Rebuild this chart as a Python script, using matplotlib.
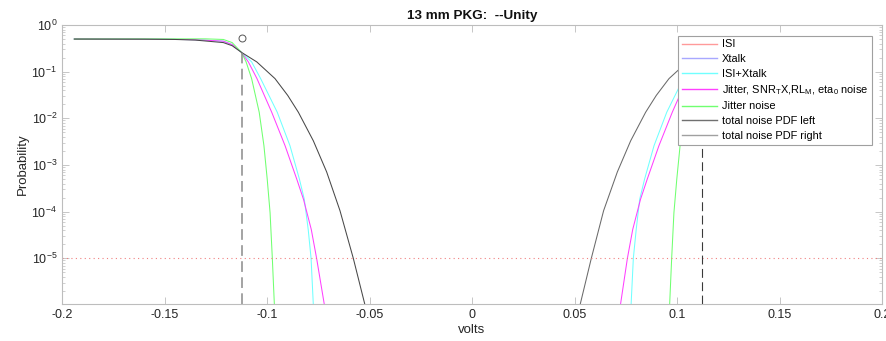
import numpy as np
import matplotlib
matplotlib.use("Agg")
import matplotlib.pyplot as plt
from matplotlib.lines import Line2D
from matplotlib.ticker import LogLocator, NullFormatter, FixedLocator

plt.rcParams['font.family'] = ['Liberation Sans', 'DejaVu Sans']
plt.rcParams['mathtext.fontset'] = 'custom'
plt.rcParams['mathtext.rm'] = 'Liberation Sans'
plt.rcParams['mathtext.it'] = 'Liberation Sans:italic'
plt.rcParams['mathtext.bf'] = 'Liberation Sans:bold'

# ---------------- data ----------------
title = "13 mm PKG:  --Unity"
legend_labels = ["ISI", "Xtalk", "ISI+Xtalk",
                 r"Jitter, SNR$_\mathrm{T}$X,RL$_\mathrm{M}$, eta$_0$ noise",
                 "Jitter noise", "total noise PDF left", "total noise PDF right"]

# ISI+Xtalk (cyan)
cyan_left_x = [-0.194, -0.15, -0.135, -0.1213, -0.117, -0.1125, -0.1075, -0.1031, -0.0950, -0.0888,
               -0.0842, -0.0818, -0.0799, -0.0785, -0.0774]
cyan_left_p = [0.5, 0.495, 0.485, 0.45, 0.38, 0.26, 0.162, 0.071, 0.0135, 2.6e-3,
               5.0e-4, 1.84e-4, 4.15e-5, 1.0e-5, 1.0e-6]
cyan_right_x = [0.0776, 0.0787, 0.0801, 0.0818, 0.0842, 0.0888, 0.0950, 0.1031, 0.1075, 0.1125,
                0.117, 0.1213, 0.135, 0.15, 0.194]
cyan_right_p = [1.0e-6, 1.0e-5, 4.15e-5, 1.84e-4, 5.0e-4, 2.6e-3, 0.0135, 0.071, 0.162, 0.26,
                0.38, 0.45, 0.485, 0.495, 0.5]

# Jitter, SNR_TX, RL_M, eta_0 noise (magenta)
mag_left_x = [-0.194, -0.15, -0.135, -0.1213, -0.117, -0.1125, -0.1091, -0.1049, -0.0977, -0.0912,
              -0.0855, -0.0822, -0.0784, -0.0758, -0.0720]
mag_left_p = [0.5, 0.495, 0.485, 0.45, 0.38, 0.26, 0.162, 0.071, 0.0135, 2.6e-3,
              5.0e-4, 1.84e-4, 4.15e-5, 1.0e-5, 1.0e-6]
mag_right_x = [0.0724, 0.0758, 0.0784, 0.0822, 0.0855, 0.0912, 0.0977, 0.1049, 0.1091, 0.1125,
               0.117, 0.1213, 0.135, 0.15, 0.194]
mag_right_p = [1.0e-6, 1.0e-5, 4.15e-5, 1.84e-4, 5.0e-4, 2.6e-3, 0.0135, 0.071, 0.162, 0.26,
               0.38, 0.45, 0.485, 0.495, 0.5]

# Jitter noise (green)
grn_left_x = [-0.194, -0.13, -0.1213, -0.117, -0.1125, -0.1102, -0.1075, -0.1038, -0.1015, -0.0999,
              -0.0985, -0.0974, -0.0964]
grn_left_p = [0.5, 0.505, 0.49, 0.42, 0.26, 0.162, 0.071, 0.0135, 2.6e-3, 5.0e-4,
              9.5e-5, 1.0e-5, 1.0e-6]
grn_right_x = [0.0964, 0.0974, 0.0985, 0.0999, 0.1015, 0.1038, 0.1075, 0.1102, 0.1125, 0.117,
               0.1213, 0.13, 0.194]
grn_right_p = [1.0e-6, 1.0e-5, 9.5e-5, 5.0e-4, 2.6e-3, 0.0135, 0.071, 0.162, 0.26, 0.42,
               0.49, 0.505, 0.5]

# total noise PDF left / right (gray)
tot_left_x = [-0.194, -0.16, -0.145, -0.135, -0.1213, -0.117, -0.1125, -0.105, -0.0961, -0.0899,
              -0.0847, -0.0774, -0.0709, -0.0644, -0.0579, -0.0522]
tot_left_p = [0.5, 0.497, 0.49, 0.475, 0.42, 0.36, 0.26, 0.162, 0.071, 0.031,
              0.0135, 3.3e-3, 7.1e-4, 1.05e-4, 1.0e-5, 1.0e-6]
tot_right_x = [0.0527, 0.0582, 0.0642, 0.0709, 0.0774, 0.0847, 0.0899, 0.0961, 0.105, 0.1125,
               0.117, 0.1213, 0.135, 0.145, 0.16, 0.194]
tot_right_p = [1.0e-6, 1.0e-5, 1.05e-4, 7.1e-4, 3.3e-3, 0.0135, 0.031, 0.071, 0.162, 0.26,
               0.36, 0.42, 0.475, 0.49, 0.497, 0.5]

# markers / reference lines
eye_left_x = -0.1122
eye_right_x = 0.1124
eye_p = 0.26
circle_x = -0.1122
circle_p = 0.52
ber_target = 1e-5

xticks = [-0.2, -0.15, -0.1, -0.05, 0, 0.05, 0.1, 0.15, 0.2]
xticklabels = ["-0.2", "-0.15", "-0.1", "-0.05", "0", "0.05", "0.1", "0.15", "0.2"]
yticks = [1e-5, 1e-4, 1e-3, 1e-2, 1e-1, 1e0]
yticklabels = [r"$10^{-5}$", r"$10^{-4}$", r"$10^{-3}$", r"$10^{-2}$", r"$10^{-1}$", r"$10^{0}$"]

# ---------------- figure ----------------
fig = plt.figure(figsize=(8.87, 3.41), dpi=100)
ax = fig.add_axes([62 / 887, 37 / 341, 820 / 887, 279 / 341])

c_isi = '#ff9a9a'
c_xt = '#a8a8ff'
c_cyan = '#70ffff'
c_mag = '#ff40ff'
c_grn = '#70ff70'
c_totl = '#484848'
c_totr = '#6a6a6a'
lw = 0.75

ax.plot(cyan_left_x, cyan_left_p, color=c_cyan, lw=lw)
ax.plot(cyan_right_x, cyan_right_p, color=c_cyan, lw=lw)
ax.plot(mag_left_x, mag_left_p, color=c_mag, lw=lw)
ax.plot(mag_right_x, mag_right_p, color=c_mag, lw=lw)
ax.plot(grn_left_x, grn_left_p, color=c_grn, lw=lw)
ax.plot(grn_right_x, grn_right_p, color=c_grn, lw=lw)
ax.plot(tot_left_x, tot_left_p, color=c_totl, lw=lw)
ax.plot(tot_right_x, tot_right_p, color=c_totr, lw=lw)

ax.axhline(ber_target, color='#f08080', lw=0.8, linestyle=(0, (1, 3)))
ax.plot([eye_left_x, eye_left_x], [1.05e-6, eye_p], color='#8a8a8a', lw=1.1, linestyle=(0, (7, 3.5)))
ax.plot([eye_right_x, eye_right_x], [1.05e-6, eye_p], color='#3a3a3a', lw=0.8, linestyle=(0, (8, 4)))
ax.plot([circle_x], [circle_p], marker='o', ms=5, mfc='none', mec='#555555', mew=0.7)

ax.set_yscale('log')
ax.set_xlim(-0.2, 0.2)
ax.set_ylim(1.05e-6, 1.0)
ax.set_xticks(xticks)
ax.set_xticklabels(xticklabels)
ax.yaxis.set_major_locator(FixedLocator(yticks))
ax.set_yticklabels(yticklabels)
ax.yaxis.set_minor_locator(LogLocator(base=10, subs=np.arange(2, 10), numticks=20))
ax.yaxis.set_minor_formatter(NullFormatter())

ax.tick_params(which='both', direction='in', top=True, right=True, colors='#bdbdbd',
               labelcolor='#262626', labelsize=9)
ax.tick_params(which='major', length=5, width=0.6)
ax.tick_params(which='minor', length=2.5, width=0.5)
for s in ax.spines.values():
    s.set_color('#bdbdbd')
    s.set_linewidth(0.8)

ax.set_xlabel('volts', fontsize=9.5, color='#262626', labelpad=2)
ax.set_ylabel('Probability', fontsize=9.5, color='#262626', labelpad=2)
ax.set_title(title, fontsize=9.7, fontweight='bold', pad=4, color='#111111')

handles = [Line2D([], [], color=c, lw=1.0) for c in
           [c_isi, c_xt, c_cyan, c_mag, c_grn, '#707070', '#a0a0a0']]
leg = ax.legend(handles, legend_labels, loc='upper right', bbox_to_anchor=(0.988, 0.962),
                fontsize=7.9, frameon=True, fancybox=False, framealpha=1.0, handlelength=3.25,
                handletextpad=0.4, labelspacing=0.42, borderpad=0.35, borderaxespad=0)
leg.get_frame().set_edgecolor('#a0a0a0')
leg.get_frame().set_linewidth(0.8)
leg.set_zorder(10)

fig.savefig('out.png', dpi=100)
